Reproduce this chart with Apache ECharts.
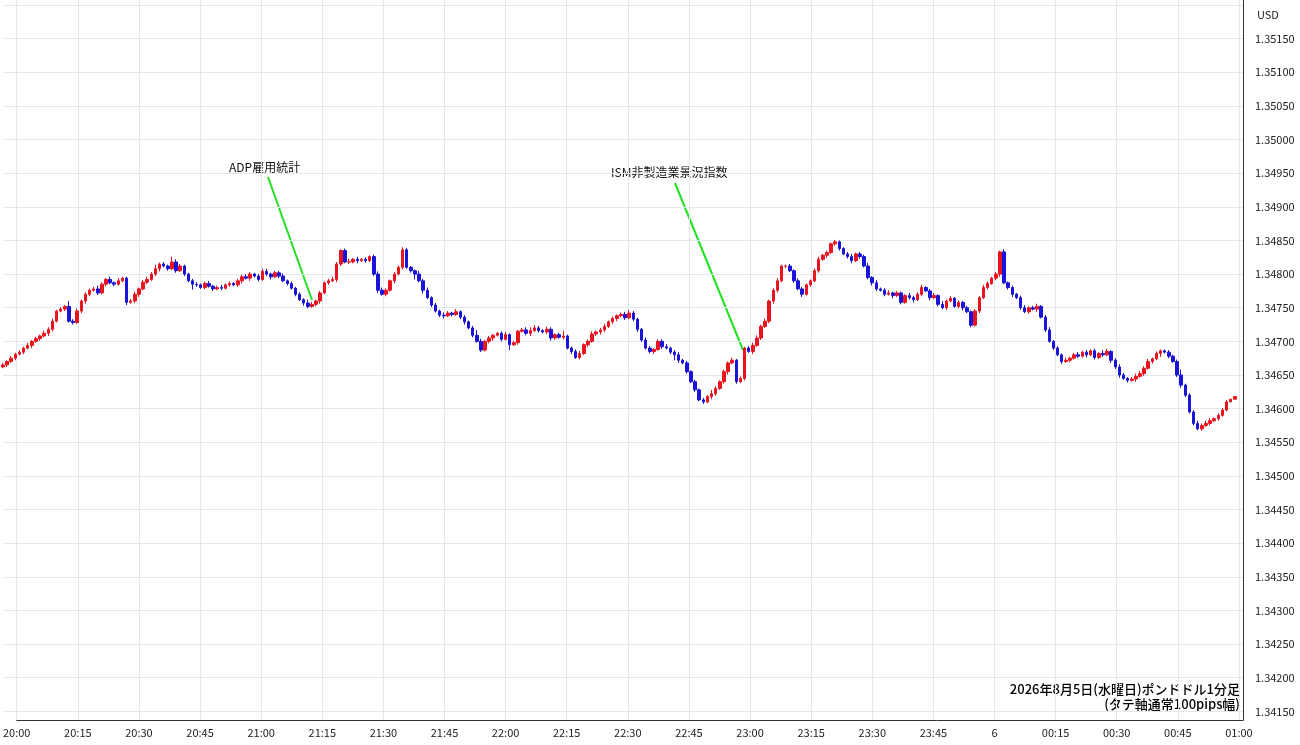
<!DOCTYPE html>
<html><head><meta charset="utf-8">
<script src="https://cdn.jsdelivr.net/npm/echarts@6/dist/echarts.min.js"></script>
<style>html,body{margin:0;padding:0;background:#fff}#c{width:1300px;height:745px}</style>
</head><body><div id="c"></div>
<script>
// close prices, points above 1.34000 (1 point = 0.00001), one per minute from 20:00
const closes = [
665,670,675,681,684,690,694,700,704,708,
712,718,730,745,748,752,730,728,745,760,
770,776,778,772,785,792,787,785,790,794,
758,760,770,778,788,792,800,808,815,812,
808,818,805,812,800,790,785,784,780,786,
782,778,780,779,784,786,784,790,796,794,
800,797,792,804,800,796,802,797,790,786,
779,770,762,757,752,755,760,772,787,790,
792,815,835,818,818,822,820,822,820,826,
800,776,770,776,790,800,810,836,810,805,
800,790,776,765,754,745,739,738,742,740,
744,736,729,720,709,700,687,700,705,709,
712,703,710,695,698,715,717,712,716,720,
716,714,718,705,710,706,708,690,685,676,
682,695,700,711,714,717,722,729,734,738,
740,735,742,733,718,702,690,685,688,700,
692,690,684,680,672,668,655,640,628,613,
610,618,622,630,640,655,668,672,640,645,
690,685,694,705,722,730,760,776,790,812,
812,805,790,778,770,784,790,805,822,828,
832,845,848,838,830,826,820,830,826,812,
795,787,778,776,770,772,768,772,758,768,
765,762,770,780,775,765,768,755,750,760,
764,752,758,750,744,724,745,765,780,786,
794,800,833,787,780,770,765,750,744,750,
748,752,736,717,700,690,680,670,672,675,
680,678,684,680,686,676,682,680,685,672,
662,650,645,642,644,648,652,660,670,674,
682,686,684,678,670,650,635,620,595,578,
570,575,578,582,585,590,598,610,614,618];
const firstOpen = 662;
// upper / lower wick lengths in points, one digit per minute
const wickUp = "3232324232434232834232353242422342343623284322332342342323343234423342323254232343235242323443233432253423243242323842322342323454324323822342342342323453224323342342323232632324232344342342232432234232322342335242342322433423425232323232432324232342342342324234232325423432344342322323823343442333";
const wickDn = "2323232423243223232343232323224234232342323232832323232323424232342323232432342324323242323423242323825232342323423232342328232342323432324232323432342323432342323842323232432342323242323432323242323242332342323432324232342324232322342323232342342323242323242323242323243423242323252323432323232322";
const yLabelMin = 1.34150, yLabelMax = 1.35150;

const cats = [];
for (let i = 0; i < 302; i++) {
  const t = 20 * 60 + i, h = Math.floor(t / 60) % 24, m = t % 60;
  cats.push((h === 0 && m === 0) ? '6' : String(h).padStart(2, '0') + ':' + String(m).padStart(2, '0'));
}
const ohlc = closes.map((c, i) => {
  const o = i === 0 ? firstOpen : closes[i - 1];
  const hi = Math.max(o, c) + (+wickUp[i] || 0);
  const lo = Math.min(o, c) - (+wickDn[i] || 0);
  const f = v => +(1.34 + v / 100000).toFixed(5);
  return [f(o), f(c), f(lo), f(hi)];
});

const chart = echarts.init(document.getElementById('c'));
const gridColor = '#e3e8ee';
chart.setOption({
  animation: false,
  grid: [
    {left: 3, right: 57, top: 5, bottom: 0},
    {left: 3, right: 57, top: 0, bottom: 25}
  ],
  xAxis: [
    {type: 'category', data: cats, gridIndex: 0, boundaryGap: false, show: false},
    {type: 'category', data: cats, gridIndex: 1, boundaryGap: false,
     axisLine: {lineStyle: {color: '#333'}}, axisTick: {show: false},
     splitLine: {show: true, interval: i => i % 15 === 0, lineStyle: {color: gridColor}},
     axisLabel: {interval: i => i % 15 === 0, color: '#222', fontSize: 11, fontFamily: 'Noto Sans CJK JP', margin: 7}}
  ],
  yAxis: [
    {type: 'value', gridIndex: 0, position: 'right', min: 1.341, max: 1.352, interval: 0.0005, scale: true,
     axisLine: {show: false}, axisTick: {show: false},
     splitLine: {lineStyle: {color: gridColor}},
     axisLabel: {color: '#222', fontSize: 11, margin: 12, fontFamily: 'Noto Sans CJK JP',
       formatter: v => (v >= yLabelMin - 1e-7 && v <= yLabelMax + 1e-7) ? v.toFixed(5) : ''}},
    {type: 'value', gridIndex: 1, position: 'right', min: 0, max: 1,
     axisLine: {show: true, lineStyle: {color: '#333'}}, axisTick: {show: false},
     axisLabel: {show: false}, splitLine: {show: false}}
  ],
  series: [
    {type: 'candlestick', xAxisIndex: 0, yAxisIndex: 0, data: ohlc, barWidth: 3,
     itemStyle: {color: '#e8141e', color0: '#1a14d8', borderColor: '#e8141e', borderColor0: '#1a14d8', borderWidth: 1}},
    {type: 'line', xAxisIndex: 1, yAxisIndex: 1, data: [], silent: true}
  ],
  graphic: [
    {type: 'line', shape: {x1: 268, y1: 177, x2: 312, y2: 300}, style: {stroke: '#22e022', lineWidth: 2}},
    {type: 'line', shape: {x1: 675, y1: 183, x2: 743, y2: 350}, style: {stroke: '#22e022', lineWidth: 2}},
    {type: 'text', left: 229, top: 161, style: {text: 'ADP雇用統計', fill: '#111', font: '12px "Noto Sans CJK JP"'}},
    {type: 'text', left: 611, top: 166, style: {text: 'ISM非製造業景況指数', fill: '#111', font: '12px "Noto Sans CJK JP"'}},
    {type: 'text', left: 1257, top: 9, style: {text: 'USD', fill: '#222', font: '11px "Noto Sans CJK JP"'}},
    {type: 'text', right: 60, top: 683, style: {text: '2026年8月5日(水曜日)ポンドドル1分足', fill: '#000', font: '500 13px "Noto Sans CJK JP"', textAlign: 'right'}},
    {type: 'text', right: 60, top: 698, style: {text: '(タテ軸通常100pips幅)', fill: '#000', font: '500 13px "Noto Sans CJK JP"', textAlign: 'right'}}
  ]
});
</script></body></html>
